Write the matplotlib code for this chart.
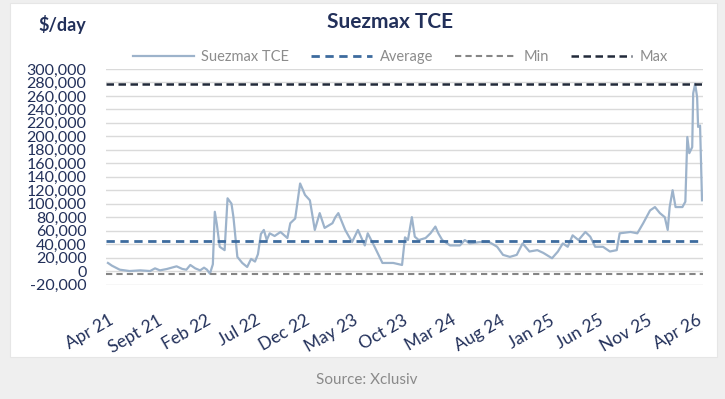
import matplotlib
matplotlib.use("Agg")
import matplotlib.pyplot as plt
from matplotlib.patches import Rectangle
from matplotlib.lines import Line2D

# ---- data (months since Apr 2021, $/day) ----
months = [0.0, 0.4, 1.2, 2.2, 3.3, 4.3, 4.8, 5.3, 6.0, 6.5, 7.0, 7.6, 8.0, 8.4, 8.9, 9.4,
          9.8, 10.1, 10.4, 10.7, 10.9, 11.1, 11.4, 11.9, 12.2, 12.6, 12.8, 13.2, 13.7, 14.2,
          14.6, 15.0, 15.3, 15.6, 15.9, 16.2, 16.5, 17.0, 17.6, 18.3, 18.6, 19.1, 19.6, 19.9,
          20.1, 20.6, 21.1, 21.6, 22.1, 22.9, 23.2, 23.5, 24.2, 24.9, 25.5, 26.2, 26.5, 27.2,
          28.0, 29.1, 30.0, 30.3, 30.6, 31.0, 31.3, 31.7, 32.4, 32.9, 33.4, 33.7, 34.1, 34.9,
          35.9, 36.4, 36.9, 37.9, 38.9, 39.7, 40.3, 41.0, 41.7, 42.3, 43.0, 43.8, 44.4, 45.3,
          45.9, 46.4, 46.9, 47.4, 48.0, 48.7, 49.2, 49.7, 50.5, 51.2, 51.9, 52.2, 53.3, 54.0,
          54.6, 55.3, 55.8, 56.3, 56.8, 57.1, 57.3, 57.6, 57.9, 58.6, 58.9, 59.1, 59.3, 59.6,
          59.7, 59.9, 60.1, 60.2, 60.4, 60.6]
tce = [12000, 8000, 2000, 0, 1000, 0, 4000, 1000, 3000, 5000, 7000, 3000, 2000, 9000, 4000, 1000,
       5000, 2000, -4000, 10000, 88000, 70000, 36000, 31000, 108000, 100000, 80000, 21000, 12000, 6000,
       18000, 14000, 25000, 55000, 61000, 46000, 56000, 52000, 58000, 49000, 71000, 78000, 130000, 120000,
       113000, 105000, 61000, 86000, 64000, 71000, 80000, 86000, 61000, 43000, 61000, 38000, 56000, 36000,
       12000, 12000, 9000, 50000, 46000, 80000, 51000, 46000, 49000, 56000, 66000, 56000, 46000, 38000,
       38000, 46000, 41000, 43000, 43000, 36000, 24000, 21000, 24000, 41000, 29000, 31000, 27000, 19000,
       29000, 41000, 36000, 53000, 46000, 58000, 51000, 36000, 36000, 29000, 31000, 56000, 58000, 56000,
       71000, 90000, 95000, 86000, 80000, 61000, 95000, 120000, 95000, 95000, 103000, 199000, 175000, 184000,
       264000, 278000, 258000, 214000, 216000, 105000]
average_value = 45000
min_value = -4000
max_value = 278000

tick_months = [0, 5, 10, 15, 20, 25, 30, 35, 40, 45, 50, 55, 60]
tick_labels = ["Apr 21", "Sept 21", "Feb 22", "Jul 22", "Dec 22", "May 23", "Oct 23",
               "Mar 24", "Aug 24", "Jan 25", "Jun 25", "Nov 25", "Apr 26"]
y_ticks = list(range(-20000, 300001, 20000))

W, H = 725, 399
fig = plt.figure(figsize=(W / 100, H / 100), dpi=100)
fig.patch.set_facecolor("#efefef")
fig.patches.append(Rectangle((10 / W, 1 - 357 / H), 707 / W, 354 / H, transform=fig.transFigure,
                             facecolor="white", edgecolor="#e6e6e6", lw=0.8, zorder=-5))

navy = "#22305a"
ax = fig.add_axes([106 / W, 1 - 284.5 / H, 597 / W, 215.5 / H], zorder=2)
ax.set_facecolor("none")
ax.set_xlim(-0.2, 60.7)
ax.set_ylim(-20000, 300000)
ax.set_yticks(y_ticks)
ax.set_yticklabels(["{:,}".format(v) for v in y_ticks], fontsize=11.5, color=navy,
                   family="Lato")
ax.tick_params(axis="y", length=0, pad=14)
ax.set_xticks(tick_months)
ax.set_xticklabels(tick_labels, rotation=30, ha="right", rotation_mode="anchor",
                   fontsize=12.5, color=navy, family="Lato")
ax.tick_params(axis="x", length=0, pad=20)
ax.grid(axis="y", color="#dadada", lw=1)
ax.set_axisbelow(True)
for s in ax.spines.values():
    s.set_visible(False)

ax.plot(months, tce, color="#9db3cb", lw=1.6, zorder=3, solid_joinstyle="round")
ax.axhline(average_value, color="#3d6b9e", lw=2, dashes=(3, 2), zorder=4)
ax.axhline(min_value, color="#858585", lw=1.5, dashes=(3, 2), zorder=4)
ax.axhline(max_value, color="#222a3a", lw=1.8, dashes=(3, 1.8), zorder=4)

handles = [Line2D([], [], color="#9db3cb", lw=1.6),
           Line2D([], [], color="#3d6b9e", lw=2, dashes=(3, 2)),
           Line2D([], [], color="#858585", lw=1.5, dashes=(3, 2)),
           Line2D([], [], color="#222a3a", lw=1.8, dashes=(3, 1.8))]
fig.legend(handles, ["Suezmax TCE", "Average", "Min", "Max"], ncol=4, frameon=False,
           loc="center", bbox_to_anchor=(400 / W, 1 - 57 / H), handlelength=4.2,
           columnspacing=1.5, handletextpad=0.5,
           prop={"family": "Lato", "size": 10.5}, labelcolor="#8c8c8c")

fig.text(390 / W, 1 - 22 / H, "Suezmax TCE", ha="center", va="center", fontsize=15,
         fontweight="bold", color=navy, family="Lato")
fig.text(62 / W, 1 - 25 / H, "$/day", ha="center", va="center", fontsize=13,
         fontweight="bold", color=navy, family="Lato")
fig.text(367 / W, 1 - 380 / H, "Source: Xclusiv", ha="center", va="center", fontsize=11,
         color="#8a8a8a", family="Lato")

fig.savefig("out.png", dpi=100, facecolor=fig.get_facecolor())
